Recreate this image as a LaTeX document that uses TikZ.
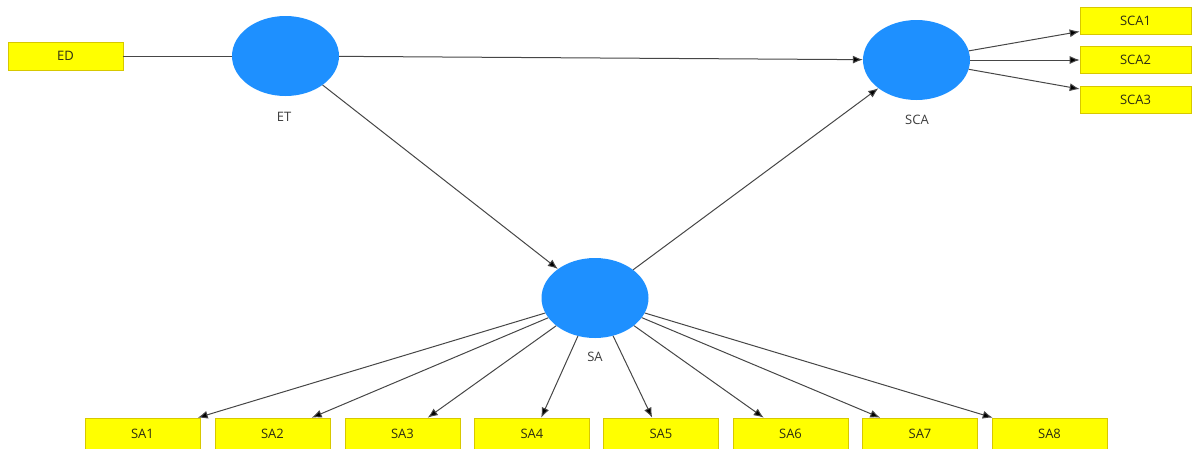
\documentclass[tikz,border=0pt]{standalone}
\usepackage{fontspec}
\setmainfont{Open Sans}
\usetikzlibrary{shapes.geometric,arrows.meta,calc}
\definecolor{lvblue}{RGB}{30,144,255}
\definecolor{indyellow}{RGB}{255,255,0}
\definecolor{indborder}{RGB}{215,200,0}
\definecolor{linec}{RGB}{70,70,70}
\definecolor{textc}{RGB}{45,45,20}
\definecolor{labelc}{RGB}{60,60,60}
\begin{document}
\begin{tikzpicture}[x=1pt,y=-1pt,
  lv/.style={ellipse, fill=lvblue, minimum width=107pt, minimum height=80pt, inner sep=0pt},
  ind/.style={rectangle, fill=indyellow, draw=indborder, line width=0.6pt, minimum width=115pt, minimum height=28pt, inner sep=0pt, font=\fontsize{13}{15}\selectfont, text=textc},
  lbl/.style={font=\fontsize{13}{15}\selectfont, text=labelc, inner sep=0pt},
  conn/.style={draw=linec, line width=1pt, -{Latex[length=10pt,width=8pt,fill=black]}},
  plain/.style={draw=linec, line width=1pt}]
\useasboundingbox (0,0) rectangle (1193,448);
\clip (0,0) rectangle (1193,448);
% latent variables
\node[lv] (ET) at (285.5,56) {};
\node[lbl] (ETl) at (284,117) {ET};
\node[lv] (SCA) at (916.5,60) {};
\node[lbl] (SCAl) at (917,120) {SCA};
\node[lv] (SA) at (595,298) {};
\node[lbl] (SAl) at (595,357) {SA};
% indicators
\node[ind] (ED) at (65.5,56) {ED};
\node[ind, minimum width=111pt, minimum height=27pt] (SCA1) at (1135.5,20.5) {SCA1};
\node[ind, minimum width=111pt, minimum height=27pt] (SCA2) at (1135.5,60) {SCA2};
\node[ind, minimum width=111pt, minimum height=27pt] (SCA3) at (1135.5,100) {SCA3};
\node[ind, minimum height=32pt] (SA1) at (142.5,434) {SA1};
\node[ind, minimum height=32pt] (SA2) at (272.5,434) {SA2};
\node[ind, minimum height=32pt] (SA3) at (402.5,434) {SA3};
\node[ind, minimum height=32pt] (SA4) at (532,434) {SA4};
\node[ind, minimum height=32pt] (SA5) at (661,434) {SA5};
\node[ind, minimum height=32pt] (SA6) at (790.5,434) {SA6};
\node[ind, minimum height=32pt] (SA7) at (920,434) {SA7};
\node[ind, minimum height=32pt] (SA8) at (1049.5,434) {SA8};
% connectors
\draw[plain] (ED.east) -- (ET);
\draw[conn] (ET) -- (SCA);
\draw[conn] (ET) -- (SA);
\draw[conn] (SA) -- (SCA);
\draw[conn] (SCA) -- ($(SCA1.west)+(0,11)$);
\draw[conn] (SCA) -- (SCA2.west);
\draw[conn] (SCA) -- ($(SCA3.west)+(0,-11)$);
\draw[conn] (SA) -- ($(SA1.north west)+(113,0)$);
\draw[conn] (SA) -- ($(SA2.north west)+(97,0)$);
\draw[conn] (SA) -- ($(SA3.north west)+(83,0)$);
\draw[conn] (SA) -- ($(SA4.north west)+(67,0)$);
\draw[conn] (SA) -- ($(SA5.north west)+(49,0)$);
\draw[conn] (SA) -- ($(SA6.north west)+(31,0)$);
\draw[conn] (SA) -- ($(SA7.north west)+(18,0)$);
\draw[conn] (SA) -- ($(SA8.north west)+(1,0)$);
\end{tikzpicture}
\end{document}
